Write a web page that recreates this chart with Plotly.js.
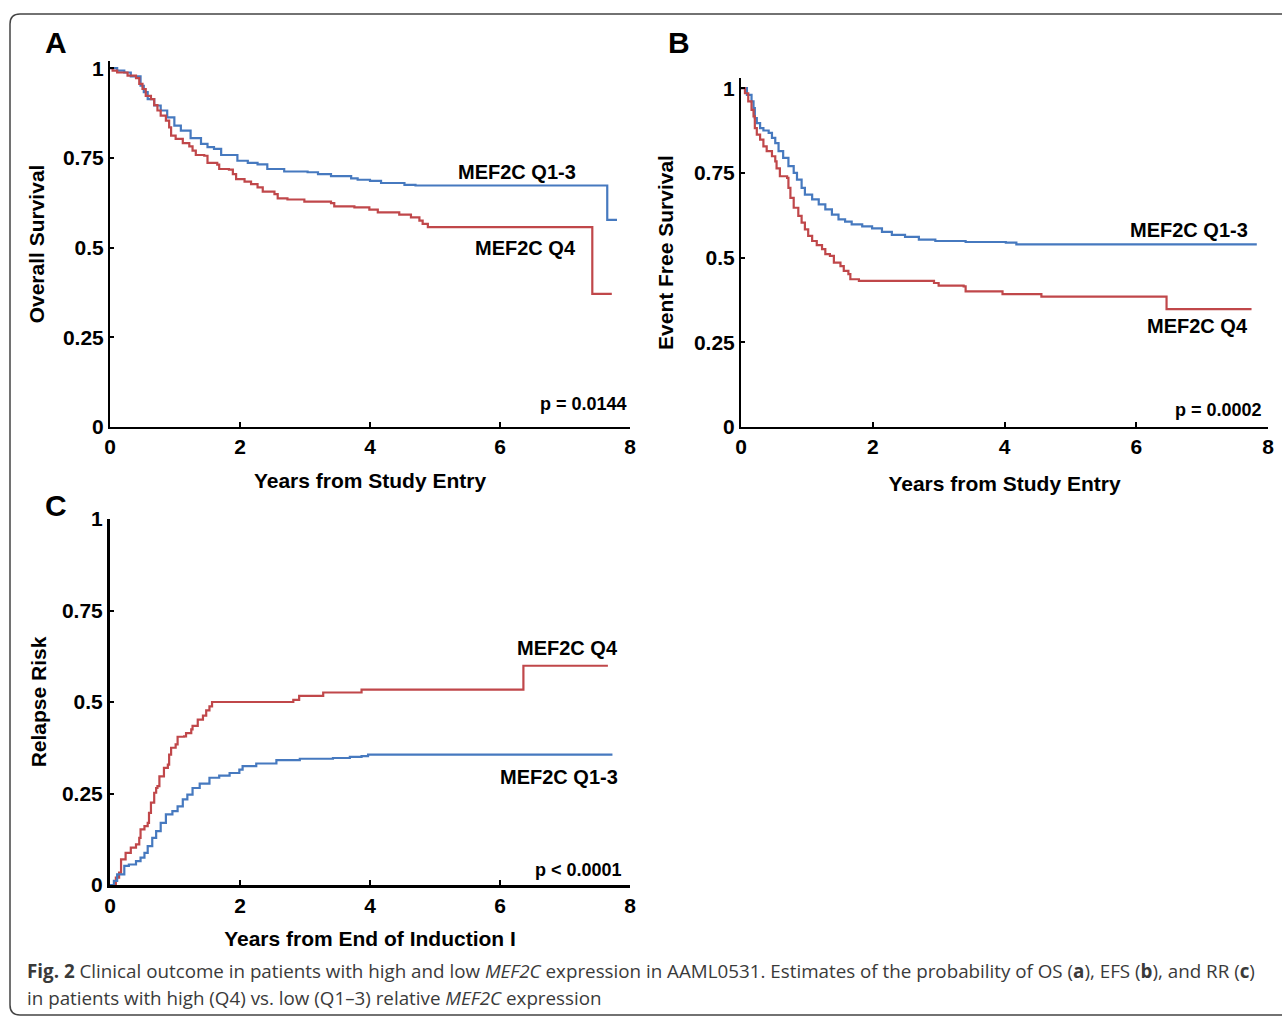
<!DOCTYPE html>
<html>
<head>
<meta charset="utf-8">
<script src="https://cdn.plot.ly/plotly-3.0.1.min.js"></script>
<style>html,body{margin:0;padding:0;background:#fff;}#chart{width:1282px;height:1016px;}</style>
</head>
<body>
<div id="chart"></div>
<script>
// ---------- Data ----------
// Panel A: Overall Survival
var osQ13Time = [0, 0.11, 0.22, 0.32, 0.47, 0.52, 0.58, 0.68, 0.78, 0.88, 0.99, 1.09, 1.24, 1.40, 1.50, 1.60, 1.71, 1.96, 2.12, 2.27, 2.42, 2.68, 3.04, 3.20, 3.40, 3.71, 3.81, 4.00, 4.17, 4.53, 4.70, 7.65, 7.80];
var osQ13Surv = [1.0, 0.993, 0.988, 0.977, 0.951, 0.933, 0.914, 0.896, 0.882, 0.863, 0.840, 0.826, 0.805, 0.789, 0.780, 0.775, 0.758, 0.742, 0.736, 0.732, 0.719, 0.712, 0.710, 0.705, 0.699, 0.693, 0.689, 0.686, 0.680, 0.675, 0.673, 0.577, 0.577];
var osQ4Time = [0, 0.04, 0.11, 0.27, 0.40, 0.45, 0.50, 0.55, 0.63, 0.68, 0.73, 0.78, 0.86, 0.91, 0.94, 1.01, 1.12, 1.22, 1.27, 1.32, 1.45, 1.50, 1.65, 1.68, 1.83, 1.89, 1.94, 2.07, 2.17, 2.27, 2.35, 2.53, 2.58, 2.73, 2.99, 3.40, 3.45, 3.76, 3.99, 4.12, 4.45, 4.63, 4.76, 4.81, 4.89, 7.42, 7.72];
var osQ4Surv = [1.0, 0.993, 0.988, 0.979, 0.972, 0.956, 0.942, 0.923, 0.914, 0.897, 0.882, 0.868, 0.854, 0.835, 0.812, 0.803, 0.791, 0.782, 0.770, 0.758, 0.756, 0.736, 0.731, 0.719, 0.717, 0.705, 0.691, 0.684, 0.677, 0.668, 0.656, 0.649, 0.637, 0.634, 0.628, 0.624, 0.615, 0.612, 0.606, 0.598, 0.592, 0.584, 0.575, 0.566, 0.557, 0.371, 0.371];

// Panel B: Event Free Survival
var efsQ13Time = [0, 0.09, 0.16, 0.19, 0.21, 0.24, 0.29, 0.34, 0.42, 0.47, 0.52, 0.57, 0.64, 0.72, 0.80, 0.85, 0.92, 0.97, 1.08, 1.18, 1.28, 1.38, 1.48, 1.58, 1.68, 1.84, 1.99, 2.14, 2.29, 2.49, 2.70, 2.95, 3.41, 4.02, 4.18, 7.83];
var efsQ13Surv = [1.0, 0.980, 0.961, 0.941, 0.912, 0.897, 0.882, 0.875, 0.868, 0.853, 0.838, 0.814, 0.794, 0.770, 0.750, 0.730, 0.706, 0.686, 0.672, 0.657, 0.642, 0.627, 0.613, 0.606, 0.598, 0.592, 0.586, 0.576, 0.567, 0.561, 0.553, 0.549, 0.546, 0.544, 0.539, 0.539];
var efsQ4Time = [0, 0.06, 0.11, 0.16, 0.19, 0.21, 0.24, 0.29, 0.34, 0.39, 0.47, 0.52, 0.54, 0.59, 0.70, 0.72, 0.75, 0.80, 0.87, 0.92, 0.97, 1.02, 1.08, 1.15, 1.23, 1.28, 1.35, 1.41, 1.51, 1.56, 1.63, 1.66, 1.79, 2.70, 2.93, 3.00, 3.38, 3.41, 3.97, 4.56, 6.46, 7.75];
var efsQ4Surv = [1.0, 0.985, 0.961, 0.936, 0.917, 0.882, 0.863, 0.848, 0.828, 0.814, 0.799, 0.784, 0.763, 0.740, 0.735, 0.706, 0.676, 0.647, 0.623, 0.603, 0.583, 0.564, 0.549, 0.537, 0.525, 0.510, 0.505, 0.485, 0.475, 0.461, 0.451, 0.436, 0.431, 0.431, 0.425, 0.417, 0.415, 0.400, 0.392, 0.385, 0.348, 0.348];

// Panel C: Relapse Risk
var rrQ4Time = [0, 0.09, 0.14, 0.17, 0.24, 0.32, 0.40, 0.45, 0.47, 0.53, 0.58, 0.60, 0.63, 0.68, 0.71, 0.73, 0.76, 0.83, 0.89, 0.91, 0.94, 1.01, 1.04, 1.14, 1.17, 1.25, 1.27, 1.35, 1.43, 1.48, 1.53, 1.57, 2.82, 2.91, 3.28, 3.87, 6.36, 7.66];
var rrQ4Risk = [0, 0.020, 0.034, 0.070, 0.088, 0.102, 0.111, 0.129, 0.152, 0.161, 0.170, 0.197, 0.225, 0.252, 0.265, 0.270, 0.297, 0.320, 0.329, 0.356, 0.375, 0.384, 0.405, 0.406, 0.415, 0.425, 0.435, 0.452, 0.463, 0.477, 0.488, 0.500, 0.506, 0.517, 0.526, 0.534, 0.599, 0.599];
var rrQ13Time = [0, 0.06, 0.11, 0.22, 0.29, 0.40, 0.47, 0.53, 0.58, 0.65, 0.71, 0.78, 0.86, 0.96, 1.04, 1.12, 1.19, 1.27, 1.38, 1.53, 1.68, 1.84, 1.99, 2.04, 2.25, 2.56, 2.92, 3.43, 3.69, 3.87, 3.97, 7.73];
var rrQ13Risk = [0, 0.011, 0.029, 0.052, 0.056, 0.065, 0.075, 0.088, 0.106, 0.129, 0.147, 0.170, 0.193, 0.202, 0.215, 0.234, 0.247, 0.265, 0.277, 0.293, 0.299, 0.306, 0.315, 0.325, 0.332, 0.341, 0.345, 0.347, 0.350, 0.352, 0.356, 0.356];

var xTickVals = [0, 2, 4, 6, 8];
var yTickVals = [0, 0.25, 0.5, 0.75, 1];
var yTickText = ['0', '0.25', '0.5', '0.75', '1'];

// ---------- Styling ----------
var W = 1282, H = 1016;
var BLUE = '#4679bf', RED = '#c0474a';
var FONT = 'Liberation Sans, Arial, Helvetica, sans-serif';
function px(x) { return x / W; }
function py(y) { return 1 - y / H; }

function curve(x, y, color, xa, ya) {
  return { x: x, y: y, type: 'scatter', mode: 'lines', line: { shape: 'hv', color: color, width: 2.2 },
           xaxis: xa, yaxis: ya, hoverinfo: 'skip' };
}

var data = [
  curve(osQ13Time, osQ13Surv, BLUE, 'x', 'y'),
  curve(osQ4Time, osQ4Surv, RED, 'x', 'y'),
  curve(efsQ13Time, efsQ13Surv, BLUE, 'x2', 'y2'),
  curve(efsQ4Time, efsQ4Surv, RED, 'x2', 'y2'),
  curve(rrQ4Time, rrQ4Risk, RED, 'x3', 'y3'),
  curve(rrQ13Time, rrQ13Risk, BLUE, 'x3', 'y3')
];

var tickFont = { family: FONT, size: 21, color: '#000', weight: 700 };
var titleFont = { family: FONT, size: 21, color: '#000', weight: 700 };

function xAxis(dom, anchor, title, standoff, lw) {
  return { domain: dom, anchor: anchor, range: [0, 8], tickvals: xTickVals, showgrid: false, zeroline: false,
           showline: true, linecolor: '#000', linewidth: lw, ticks: 'inside', ticklen: 5, tickwidth: 2, tickcolor: '#000',
           tickfont: tickFont, fixedrange: true,
           title: { text: title, font: titleFont, standoff: standoff } };
}
function yAxis(dom, anchor, top, title, standoff, lw) {
  return { domain: dom, anchor: anchor, range: [0, top], tickvals: yTickVals, ticktext: yTickText, showgrid: false, zeroline: false,
           showline: true, linecolor: '#000', linewidth: lw, ticks: 'inside', ticklen: 4, tickwidth: 2, tickcolor: '#000',
           tickfont: tickFont, fixedrange: true,
           title: { text: title, font: titleFont, standoff: standoff } };
}

function label(text, xref, yref, x, y, size, xanchor) {
  return { text: text, xref: xref, yref: yref, x: x, y: y, showarrow: false, xanchor: xanchor || 'right', yanchor: 'middle',
           font: { family: FONT, size: size, color: '#000', weight: 700 } };
}

var captionFont = { family: 'Open Sans, Noto Sans, sans-serif', size: 18.8, color: '#3a3a3a' };

var layout = {
  width: W, height: H,
  margin: { l: 0, r: 0, t: 0, b: 0 },
  paper_bgcolor: '#fff', plot_bgcolor: 'rgba(0,0,0,0)',
  showlegend: false,
  xaxis: xAxis([px(110), px(630)], 'y', 'Years from Study Entry', 16, 2),
  yaxis: yAxis([py(427), py(61)], 'x', 1.02, 'Overall Survival', 13, 2),
  xaxis2: xAxis([px(741), px(1268)], 'y2', 'Years from Study Entry', 19, 2),
  yaxis2: yAxis([py(427), py(78)], 'x2', 1.03, 'Event Free Survival', 15, 2),
  xaxis3: xAxis([px(110), px(630)], 'y3', 'Years from End of Induction I', 16, 3),
  yaxis3: yAxis([py(885), py(519)], 'x3', 1.0, 'Relapse Risk', 10, 3),
  annotations: [
    label('A', 'paper', 'paper', px(56), py(42), 30, 'center'),
    label('B', 'paper', 'paper', px(679), py(42), 30, 'center'),
    label('C', 'paper', 'paper', px(56), py(505), 30, 'center'),
    label('MEF2C Q1-3', 'x', 'y', 7.2, 0.71, 20),
    label('MEF2C Q4', 'x', 'y', 7.2, 0.498, 20),
    label('p = 0.0144', 'x', 'y', 7.98, 0.065, 18),
    label('MEF2C Q1-3', 'x2', 'y2', 7.72, 0.582, 20),
    label('MEF2C Q4', 'x2', 'y2', 7.73, 0.297, 20),
    label('p = 0.0002', 'x2', 'y2', 7.94, 0.05, 18),
    label('MEF2C Q4', 'x3', 'y3', 7.84, 0.647, 20),
    label('MEF2C Q1-3', 'x3', 'y3', 7.84, 0.295, 20),
    label('p < 0.0001', 'x3', 'y3', 7.9, 0.04, 18),
    { text: '<b>Fig. 2</b> Clinical outcome in patients with high and low <i>MEF2C</i> expression in AAML0531. Estimates of the probability of OS (<b>a</b>), EFS (<b>b</b>), and RR (<b>c</b>)',
      xref: 'paper', yref: 'paper', x: px(25), y: py(971), xanchor: 'left', yanchor: 'middle', showarrow: false, font: captionFont },
    { text: 'in patients with high (Q4) vs. low (Q1–3) relative <i>MEF2C</i> expression',
      xref: 'paper', yref: 'paper', x: px(25), y: py(998), xanchor: 'left', yanchor: 'middle', showarrow: false, font: captionFont }
  ],
  shapes: [
    { type: 'path', xref: 'paper', yref: 'paper', layer: 'below',
      path: 'M ' + px(1300) + ',' + py(14) + ' L ' + px(20) + ',' + py(14) +
            ' Q ' + px(10) + ',' + py(14) + ' ' + px(10) + ',' + py(24) +
            ' L ' + px(10) + ',' + py(1005) +
            ' Q ' + px(10) + ',' + py(1015) + ' ' + px(20) + ',' + py(1015) +
            ' L ' + px(1300) + ',' + py(1015),
      line: { color: '#444', width: 1.5 } }
  ]
};

Plotly.newPlot('chart', data, layout, { displayModeBar: false, staticPlot: true });
</script>
</body>
</html>
